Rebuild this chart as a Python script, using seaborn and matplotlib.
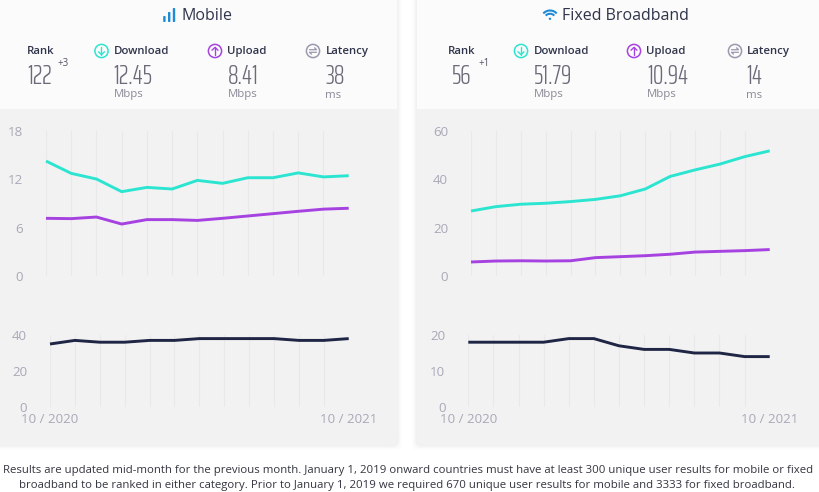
import numpy as np
import pandas as pd
import matplotlib
matplotlib.use("Agg")
import matplotlib.pyplot as plt
from matplotlib.patches import Circle, Rectangle, FancyBboxPatch, Arc
import seaborn as sns

# Chart data
months = list(range(13))

mobile_download = [14.27, 12.74, 12.04, 10.47, 11.0, 10.8, 11.87, 11.5, 12.2, 12.2, 12.8, 12.3, 12.45]
mobile_upload = [7.16, 7.12, 7.32, 6.45, 7.0, 7.0, 6.9, 7.16, 7.45, 7.74, 8.03, 8.3, 8.41]
mobile_latency = [35, 37, 36, 36, 37, 37, 38, 38, 38, 38, 37, 37, 38]

fixed_download = [26.9, 28.7, 29.7, 30.1, 30.8, 31.7, 33.2, 36.0, 41.2, 43.9, 46.3, 49.4, 51.79]
fixed_upload = [5.8, 6.2, 6.3, 6.2, 6.3, 7.6, 8.0, 8.4, 9.0, 9.9, 10.2, 10.5, 10.94]
fixed_latency = [18, 18, 18, 18, 19, 19, 17, 16, 16, 15, 15, 14, 14]

mobile_speed_ticks = [0, 6, 12, 18]
mobile_latency_ticks = [0, 20, 40]
fixed_speed_ticks = [0, 20, 40, 60]
fixed_latency_ticks = [0, 10, 20]

date_labels = ["10 / 2020", "10 / 2021"]

footer_1 = ("Results are updated mid-month for the previous month. January 1, 2019 onward countries "
            "must have at least 300 unique user results for mobile or fixed")
footer_2 = ("broadband to be ranked in either category. Prior to January 1, 2019 we required 670 "
            "unique user results for mobile and 3333 for fixed broadband.")

# Colours
TEAL = "#2ce5d0"
PURPLE = "#a642e0"
NAVY = "#1f2544"
GREY_TICK = "#a9a9b8"
GREY_ICON = "#9a9aae"
BLUE = "#1f8ad6"

sns.set_style("white")
plt.rcParams["font.family"] = ["Open Sans", "DejaVu Sans"]

NARROW = ["Saira ExtraCondensed", "Liberation Sans Narrow", "DejaVu Sans"]

W, H = 820, 492
fig = plt.figure(figsize=(W / 100, H / 100), dpi=100, facecolor="white")

# Overlay in pixel coordinates for cards, icons and header text
bg = fig.add_axes([0, 0, 1, 1], zorder=0)
bg.set_xlim(0, W)
bg.set_ylim(H, 0)
bg.axis("off")


def add_card(x0, x1):
    # soft shadow, then grey body, then the pale header strip
    for grow, alpha in [(5, 0.012), (3, 0.018), (1.5, 0.025)]:
        bg.add_patch(FancyBboxPatch((x0 - grow, -10), x1 - x0 + 2 * grow, 455 + grow,
                                    boxstyle="round,pad=0,rounding_size=6",
                                    fc="black", ec="none", alpha=alpha))
    bg.add_patch(FancyBboxPatch((x0, -10), x1 - x0, 455, boxstyle="round,pad=0,rounding_size=6",
                                fc="#f2f2f3", ec="none"))
    bg.add_patch(Rectangle((x0, -10), x1 - x0, 119, fc="#fbfbfb", ec="none"))


def stat(x_label, x_value, label, value, unit=None):
    bg.text(x_label, 51.5, label, fontsize=8.2, color="#30344a", fontweight="semibold",
            ha="left", va="center")
    bg.text(x_value, 76, value, fontsize=19, color="#6a6a78", ha="left", va="center",
            family=NARROW, fontweight=300)
    if unit:
        bg.text(x_value, 95, unit, fontsize=8.2, color="#8a8a98", ha="left", va="center")


def circle_icon(cx, color, kind):
    cy = 51
    bg.add_patch(Circle((cx, cy), 6.6, fc="none", ec=color, lw=1.1))
    if kind == "down" or kind == "up":
        sign = 1 if kind == "down" else -1
        bg.plot([cx, cx], [cy - 3.6 * sign, cy + 3.6 * sign], color=color, lw=1.0)
        bg.plot([cx - 3, cx, cx + 3], [cy + 0.8 * sign, cy + 3.6 * sign, cy + 0.8 * sign],
                color=color, lw=1.0)
    else:
        bg.plot([cx - 3.5, cx + 3.5, cx + 1.5], [cy - 1.3, cy - 1.3, cy - 3.2], color=color, lw=0.9)
        bg.plot([cx + 3.5, cx - 3.5, cx - 1.5], [cy + 1.3, cy + 1.3, cy + 3.2], color=color, lw=0.9)


add_card(-10, 397)
add_card(417, 830)

# Mobile header
for bx, top in [(163.2, 16), (168, 12), (172.8, 8)]:
    bg.add_patch(FancyBboxPatch((bx, top), 2.4, 22 - top, boxstyle="round,pad=0,rounding_size=0.8",
                                fc=BLUE, ec="none"))
bg.text(181.5, 15.5, "Mobile", fontsize=11.5, color="#30344a", ha="left", va="center")

stat(27, 27, "Rank", "122")
bg.text(57.5, 63, "+3", fontsize=7, color="#555566", ha="left", va="center")
circle_icon(101.5, TEAL, "down")
stat(113.5, 113.5, "Download", "12.45", "Mbps")
circle_icon(215, PURPLE, "up")
stat(227.5, 227.5, "Upload", "8.41", "Mbps")
circle_icon(313, GREY_ICON, "latency")
stat(325.5, 325.5, "Latency", "38", "ms")

# Fixed broadband header
for d in [18, 11.5]:
    bg.add_patch(Arc((550, 19.5), d, d, theta1=222, theta2=318, color=BLUE, lw=1.5))
bg.add_patch(Circle((550, 18.8), 1.2, fc=BLUE, ec="none"))
bg.text(562.5, 15.5, "Fixed Broadband", fontsize=11.5, color="#30344a", ha="left", va="center")

stat(447.5, 452, "Rank", "56")
bg.text(478, 63, "+1", fontsize=7, color="#555566", ha="left", va="center")
circle_icon(521, TEAL, "down")
stat(533.5, 533.5, "Download", "51.79", "Mbps")
circle_icon(634, PURPLE, "up")
stat(646.5, 647, "Upload", "10.94", "Mbps")
circle_icon(735, GREY_ICON, "latency")
stat(746.5, 746.5, "Latency", "14", "ms")

# Footer
bg.text(408, 471, footer_1, fontsize=8.2, color="#33363f", ha="center", va="center")
bg.text(407, 485.5, footer_2, fontsize=8.2, color="#33363f", ha="center", va="center")


def line_panel(box, series, colors, yticks, ymax, show_dates=False):
    x0, x1, y0, y1 = box
    ax = fig.add_axes([x0 / W, 1 - y1 / H, (x1 - x0) / W, (y1 - y0) / H], zorder=2)
    ax.patch.set_alpha(0)
    for values, color in zip(series, colors):
        df = pd.DataFrame({"month": months, "value": values})
        sns.lineplot(data=df, x="month", y="value", ax=ax, color=color, linewidth=2.1,
                     errorbar=None, clip_on=False, solid_capstyle="butt", zorder=3)
    ax.set_xlim(months[0], months[-1])
    ax.set_ylim(0, ymax)
    ax.set_xlabel("")
    ax.set_ylabel("")
    ax.set_xticks(months)
    labels = [""] * len(months)
    if show_dates:
        labels[0], labels[-1] = date_labels
    ax.set_xticklabels(labels)
    ax.set_yticks(yticks)
    ax.tick_params(axis="y", length=0, pad=16.5, labelsize=9.6, labelcolor=GREY_TICK)
    ax.tick_params(axis="x", length=0, pad=4.5, labelsize=9.6, labelcolor=GREY_TICK)
    ax.grid(axis="x", color="#e9e9ec", linewidth=0.8)
    ax.grid(axis="y", visible=False)
    sns.despine(ax=ax, left=True, bottom=True)
    return ax


line_panel((46, 348.7, 131, 276), [mobile_download, mobile_upload], [TEAL, PURPLE],
           mobile_speed_ticks, 18)
line_panel((50, 348.7, 335, 407), [mobile_latency], [NAVY], mobile_latency_ticks, 40, True)
line_panel((471, 769.7, 131, 276), [fixed_download, fixed_upload], [TEAL, PURPLE],
           fixed_speed_ticks, 60)
line_panel((468.3, 769.7, 335, 407), [fixed_latency], [NAVY], fixed_latency_ticks, 20, True)

fig.savefig("out.png", dpi=100, facecolor="white")
